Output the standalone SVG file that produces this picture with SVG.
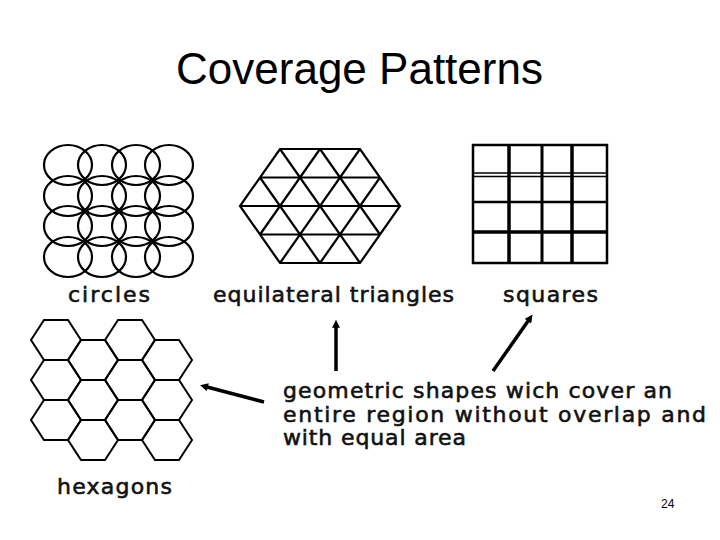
<svg xmlns="http://www.w3.org/2000/svg" xmlns:xlink="http://www.w3.org/1999/xlink" width="720" height="540" viewBox="0 0 720 540">
<style>
.t{font-family:"Liberation Sans",Arial,sans-serif;fill:#000}
.lbl{font-family:"DejaVu Sans","Liberation Sans",sans-serif;font-size:22px;fill:#111;stroke:#111;stroke-width:0.6}
.ln{fill:none;stroke:#000;stroke-width:2.2}
.arr{fill:none;stroke:#000;stroke-width:3.5;marker-end:url(#ah)}
</style>
<defs>
<marker id="ah" viewBox="0 0 10 10" refX="1" refY="5" markerUnits="userSpaceOnUse" markerWidth="9" markerHeight="8" orient="auto">
<path d="M0,0 L10,5 L0,10 z" fill="#000"/>
</marker>
<polygon id="hex" points="-25,0 -12,-20 12,-20 25,0 12,20 -12,20" fill="none" stroke="#000" stroke-width="2"/>
</defs>
<rect width="720" height="540" fill="#fff"/>
<text class="t" x="359.5" y="84" font-size="44" text-anchor="middle">Coverage Patterns</text>

<g id="circles">
<g class="ln">
<ellipse cx="68" cy="165" rx="24" ry="20"/><ellipse cx="102" cy="165" rx="24" ry="20"/><ellipse cx="136" cy="165" rx="24" ry="20"/><ellipse cx="169" cy="165" rx="24" ry="20"/>
<ellipse cx="68" cy="196" rx="24" ry="20"/><ellipse cx="102" cy="196" rx="24" ry="20"/><ellipse cx="136" cy="196" rx="24" ry="20"/><ellipse cx="169" cy="196" rx="24" ry="20"/>
<ellipse cx="68" cy="226" rx="24" ry="20"/><ellipse cx="102" cy="226" rx="24" ry="20"/><ellipse cx="136" cy="226" rx="24" ry="20"/><ellipse cx="169" cy="226" rx="24" ry="20"/>
<ellipse cx="68" cy="257" rx="24" ry="20"/><ellipse cx="102" cy="257" rx="24" ry="20"/><ellipse cx="136" cy="257" rx="24" ry="20"/><ellipse cx="169" cy="257" rx="24" ry="20"/>
</g>
<text class="t lbl" x="68" y="302" textLength="82" lengthAdjust="spacing">circles</text>
</g>

<g id="triangles">
<g class="ln">
<polygon points="280,149 360,149 400,206 360,263 280,263 240,206"/>
<line x1="260" y1="177.5" x2="380" y2="177.5"/>
<line x1="240" y1="206" x2="400" y2="206"/>
<line x1="260" y1="234.5" x2="380" y2="234.5"/>
<line x1="280" y1="149" x2="360" y2="263"/>
<line x1="320" y1="149" x2="380" y2="234.5"/>
<line x1="260" y1="177.5" x2="320" y2="263"/>
<line x1="360" y1="149" x2="280" y2="263"/>
<line x1="320" y1="149" x2="260" y2="234.5"/>
<line x1="380" y1="177.5" x2="320" y2="263"/>
</g>
<text class="t lbl" x="213" y="302" textLength="241" lengthAdjust="spacing">equilateral triangles</text>
</g>

<g id="squares">
<rect x="473" y="145" width="134" height="118" fill="none" stroke="#000" stroke-width="2.5"/>
<g stroke="#000">
<line x1="509" y1="145" x2="509" y2="263" stroke-width="3.5"/>
<line x1="542" y1="145" x2="542" y2="263" stroke-width="3"/>
<line x1="572" y1="145" x2="572" y2="263" stroke-width="3.5"/>
<line x1="473" y1="173" x2="607" y2="173" stroke-width="1.5"/>
<line x1="473" y1="176.5" x2="607" y2="176.5" stroke-width="1.5"/>
<line x1="473" y1="202" x2="607" y2="202" stroke-width="2.5"/>
<line x1="473" y1="232" x2="607" y2="232" stroke-width="3.5"/>
</g>
<text class="t lbl" x="503" y="302" textLength="95" lengthAdjust="spacing">squares</text>
</g>

<g id="hexagons">
<use xlink:href="#hex" x="56" y="340"/><use xlink:href="#hex" x="56" y="380"/><use xlink:href="#hex" x="56" y="420"/>
<use xlink:href="#hex" x="93" y="360"/><use xlink:href="#hex" x="93" y="400"/><use xlink:href="#hex" x="93" y="440"/>
<use xlink:href="#hex" x="130" y="340"/><use xlink:href="#hex" x="130" y="380"/><use xlink:href="#hex" x="130" y="420"/>
<use xlink:href="#hex" x="167" y="360"/><use xlink:href="#hex" x="167" y="400"/><use xlink:href="#hex" x="167" y="440"/>
<text class="t lbl" x="57" y="494" textLength="115" lengthAdjust="spacing">hexagons</text>
</g>

<g id="description">
<text class="t lbl" x="283" y="398" textLength="389" lengthAdjust="spacing">geometric shapes wich cover an</text>
<text class="t lbl" x="283" y="421.5" textLength="423" lengthAdjust="spacing">entire region without overlap and</text>
<text class="t lbl" x="283" y="445" textLength="183" lengthAdjust="spacing">with equal area</text>
</g>

<g id="connectors">
<line class="arr" x1="264" y1="402" x2="207" y2="387"/>
<line class="arr" x1="336" y1="371" x2="336" y2="327"/>
<line class="arr" x1="493" y1="371" x2="528.4" y2="320.5"/>
</g>

<text class="t" x="661" y="508" font-size="12">24</text>
</svg>
